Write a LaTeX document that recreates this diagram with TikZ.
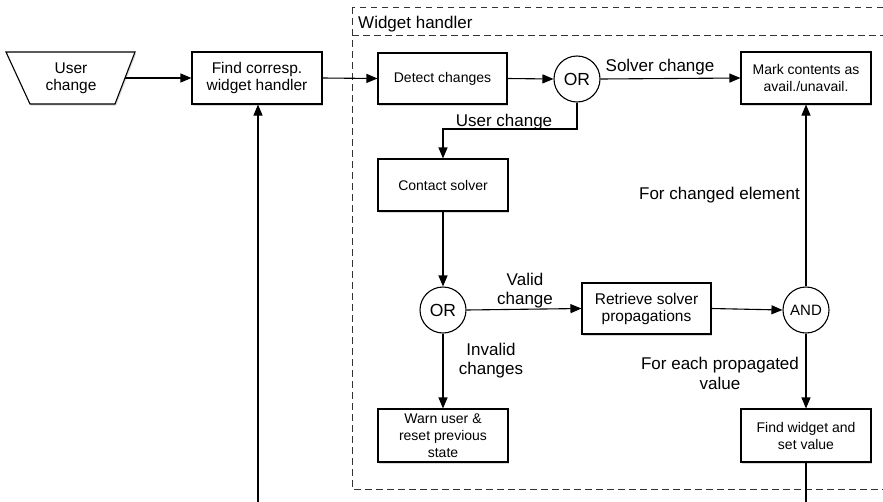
\documentclass[tikz,border=0pt]{standalone}
\usepackage{fontspec}
\setmainfont{Liberation Sans}
\usetikzlibrary{arrows.meta,shadows}
\begin{document}
\begin{tikzpicture}[x=1pt,y=-1pt,
  every node/.style={font=\fontsize{14}{17}\selectfont},
  box/.style={draw, line width=1.1pt, fill=white, minimum width=130pt, minimum height=52pt, align=center, inner sep=2pt,
    drop shadow={shadow xshift=1.2pt,shadow yshift=-1.6pt,opacity=0.3}},
  bigtext/.style={font=\fontsize{15.5}{17}\selectfont},
  gate/.style={draw, circle, line width=1.1pt, minimum size=46pt, inner sep=0pt, fill=white, font=\fontsize{17.5}{19}\selectfont},
  smallgate/.style={font=\fontsize{15}{17}\selectfont},
  lbl/.style={font=\fontsize{17}{19.5}\selectfont, align=center, inner sep=0pt},
  conn/.style={line width=1.1pt},
  arr/.style={conn, -{Triangle[length=11pt,width=9pt]}},
  frame/.style={line width=1pt, draw=black!80, dash pattern=on 6.5pt off 4.5pt}
]
\useasboundingbox (0,0) rectangle (883,501);
\clip (0,0) rectangle (883,501);

% widget handler frame
\draw[frame] (352,7) rectangle (900,489);
\draw[frame] (352,35) -- (900,35);
\node[lbl, anchor=base west] (title) at (358,28) {Widget handler};

% user change trapezoid
\coordinate (tl) at (6,52);
\coordinate (tr) at (135,52);
\coordinate (br) at (115,104);
\coordinate (bl) at (30,104);
\filldraw[line width=1.1pt, fill=white, drop shadow={shadow xshift=1.2pt,shadow yshift=-1.6pt,opacity=0.3}] (tl) -- (tr) -- (br) -- (bl) -- cycle;
\node[bigtext, align=center] (user) at (71,78) {User\\change};
\coordinate (userE) at (125,78);

% boxes
\node[box, bigtext] (find) at (257,78) {Find corresp.\\widget handler};
\node[box, minimum width=129pt, minimum height=51pt] (detect) at (442.5,78.5) {Detect changes};
\node[gate] (or1) at (577,79) {OR};
\node[box] (mark) at (806,78) {Mark contents as\\avail./unavail.};
\node[box] (contact) at (443,185) {Contact solver};
\node[gate] (or2) at (443,310) {OR};
\node[box, bigtext, minimum width=129pt, minimum height=51pt] (retrieve) at (646.5,308.5) {Retrieve solver\\propagations};
\node[gate, smallgate] (and) at (806,310) {AND};
\node[box, minimum height=53pt] (warn) at (443,435.5) {Warn user \&\\reset previous\\state};
\node[box, minimum height=53pt] (findw) at (806,435.5) {Find widget and\\set value};

\coordinate (loopA) at (806,510);
\coordinate (loopB) at (258,510);
\coordinate (bendA) at (577,129);
\coordinate (bendB) at (443,129);

% connectors
\draw[arr] (userE) -- (find.west);
\draw[arr] (find.east) -- (detect.west);
\draw[arr] (detect.east) -- (or1.west);
\draw[arr] (or1.east) -- (mark.west);
\draw[arr] (or1.south) -- (bendA) -- (bendB) -- (contact.north);
\draw[arr] (contact.south) -- (or2.north);
\draw[arr] (or2.east) -- (retrieve.west);
\draw[arr] (retrieve.east) -- (and.west);
\draw[arr] (and.north) -- (mark.south);
\draw[arr] (or2.south) -- (warn.north);
\draw[arr] (and.south) -- (findw.north);
\draw[conn] (findw.south) -- (loopA);
\draw[arr] (loopB) -- (find.south -| loopB);

% labels
\node[lbl, anchor=base] (lsolver) at (660,71) {Solver change};
\node[lbl, anchor=base] (luser) at (504,126) {User change};
\node[lbl] (lvalid) at (525,290.5) {Valid\\change};
\node[lbl, anchor=base east] (lchanged) at (800,199) {For changed element};
\node[lbl] (linvalid) at (491,360.5) {Invalid\\changes};
\node[lbl] (leach) at (720,373.5) {For each propagated\\value};
\end{tikzpicture}
\end{document}
